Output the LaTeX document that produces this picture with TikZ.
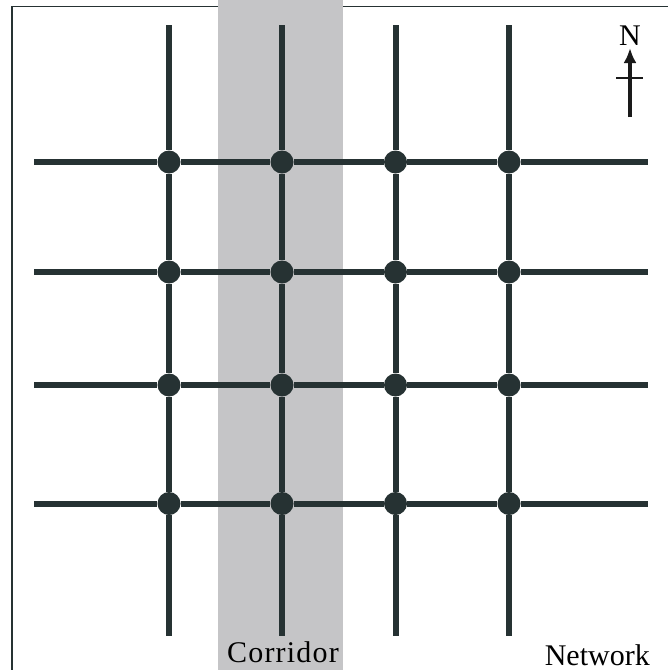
\documentclass[tikz,border=0pt]{standalone}
\usepackage{fontspec}
\setmainfont{Liberation Serif}
\usetikzlibrary{arrows.meta,positioning}
\definecolor{roadcol}{HTML}{263233}
\definecolor{corrcol}{HTML}{C5C5C7}
\definecolor{arrowcol}{HTML}{1A1A1A}
\tikzset{
	road/.style={line width=6pt, color=roadcol},
	junction/.style={circle, fill=roadcol, minimum size=23pt, inner sep=0pt},
	maptext/.style={inner sep=0pt, font=\fontsize{30}{36}\selectfont}
}
\begin{document}
\begin{tikzpicture}[x=1pt, y=-1pt]
	\useasboundingbox (0,0) rectangle (668,670);
	% frame (only top and left edge are inside the picture)
	\draw[line width=1.8pt, color=roadcol] (12,670) -- (12,6.5) -- (668,6.5);
	% corridor
	\fill[corrcol] (218,0) rectangle (343,670);
	% junctions
	\node[junction] (j11) at (169,162) {};
	\node[junction] (j21) at (282,162) {};
	\node[junction] (j31) at (395.5,162) {};
	\node[junction] (j41) at (509,162) {};
	\node[junction] (j12) at (169,272) {};
	\node[junction] (j22) at (282,272) {};
	\node[junction] (j32) at (395.5,272) {};
	\node[junction] (j42) at (509,272) {};
	\node[junction] (j13) at (169,385) {};
	\node[junction] (j23) at (282,385) {};
	\node[junction] (j33) at (395.5,385) {};
	\node[junction] (j43) at (509,385) {};
	\node[junction] (j14) at (169,503.5) {};
	\node[junction] (j24) at (282,503.5) {};
	\node[junction] (j34) at (395.5,503.5) {};
	\node[junction] (j44) at (509,503.5) {};
	% free road ends
	\coordinate (t1) at (169,25);   \coordinate (b1) at (169,636);
	\coordinate (t2) at (282,25);   \coordinate (b2) at (282,636);
	\coordinate (t3) at (395.5,25); \coordinate (b3) at (395.5,636);
	\coordinate (t4) at (509,25);   \coordinate (b4) at (509,636);
	\coordinate (l1) at (34,162);   \coordinate (r1) at (648,162);
	\coordinate (l2) at (34,272);   \coordinate (r2) at (648,272);
	\coordinate (l3) at (34,385);   \coordinate (r3) at (648,385);
	\coordinate (l4) at (34,503.5); \coordinate (r4) at (648,503.5);
	% north-south roads
	\draw[road] (t1) -- (j11) -- (j12) -- (j13) -- (j14) -- (b1);
	\draw[road] (t2) -- (j21) -- (j22) -- (j23) -- (j24) -- (b2);
	\draw[road] (t3) -- (j31) -- (j32) -- (j33) -- (j34) -- (b3);
	\draw[road] (t4) -- (j41) -- (j42) -- (j43) -- (j44) -- (b4);
	% east-west roads
	\draw[road] (l1) -- (j11) -- (j21) -- (j31) -- (j41) -- (r1);
	\draw[road] (l2) -- (j12) -- (j22) -- (j32) -- (j42) -- (r2);
	\draw[road] (l3) -- (j13) -- (j23) -- (j33) -- (j43) -- (r3);
	\draw[road] (l4) -- (j14) -- (j24) -- (j34) -- (j44) -- (r4);
	% north arrow
	\node[maptext, inner sep=2pt] (nlabel) at (630,36) {N};
	\coordinate (ntail) at (630,117);
	\draw[line width=4pt, color=arrowcol, -{Latex[length=15pt,width=13pt]}] (ntail) -- (nlabel);
	\coordinate (barw) at (616,78);
	\coordinate (bare) at (643,78);
	\draw[line width=2pt, color=arrowcol] (barw) -- (bare);
	% descriptions
	\node[maptext, anchor=base] (corridor) at (283,662) {\addfontfeatures{LetterSpace=4}Corridor};
	\node[maptext, anchor=base east] (network) at (650,665) {Network};
\end{tikzpicture}
\end{document}
